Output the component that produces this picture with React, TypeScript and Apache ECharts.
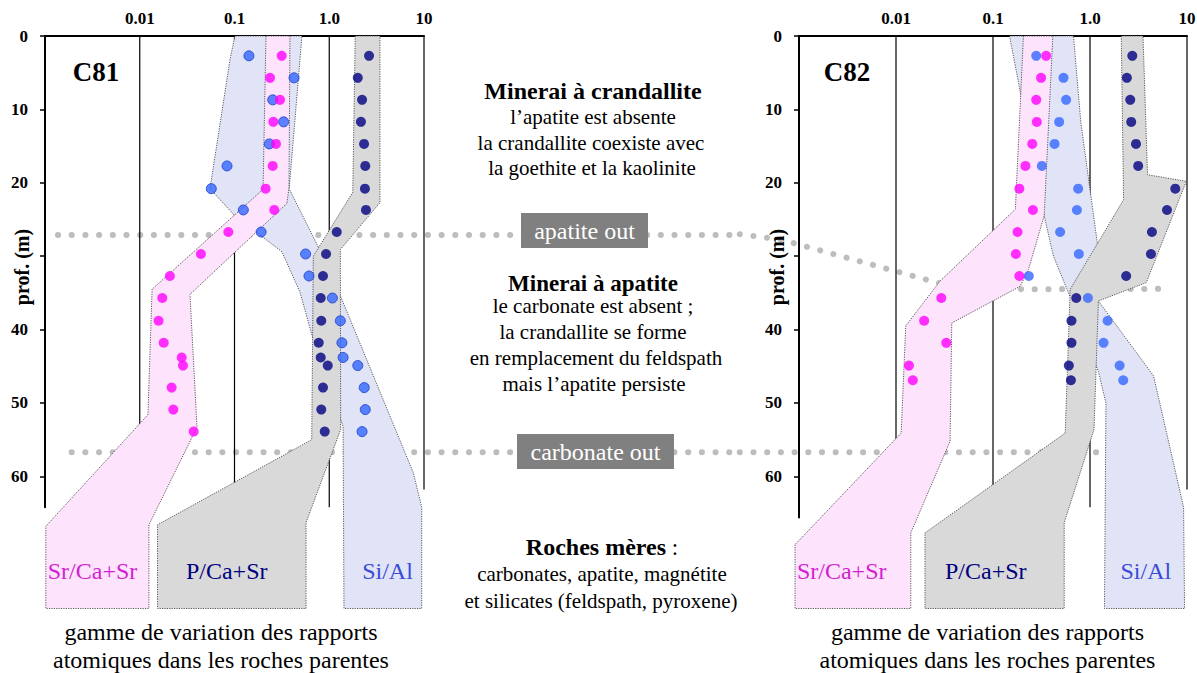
import React, { useEffect, useRef } from 'react';
import * as echarts from 'echarts';

const SERIF = "'Liberation Serif', 'Times New Roman', Times, serif";

// ---------- axes ----------
const depthTicks = [0, 10, 20, 30, 40, 50, 60];
const depthLabels = [0, 10, 20, 40, 50, 60];
const decadeValues = [0.01, 0.1, 1, 10];
const decadeLabels = ['0.01', '0.1', '1.0', '10'];
const gridLineEnds = [64.2, 64.2, 64.2, 61.8];

// ---------- C81 samples (depth m, atomic ratios) ----------
const c81Depths = [2.7, 5.7, 8.7, 11.7, 14.7, 17.7, 20.8, 23.7, 26.7, 29.7, 32.7, 35.7, 38.8, 41.8, 43.8, 44.9, 47.9, 50.9, 53.9];
const c81Sr = [0.315, 0.237, 0.302, 0.257, 0.274, 0.253, 0.213, 0.263, 0.0861, 0.0442, 0.0208, 0.0173, 0.0158, 0.0179, 0.0277, 0.0286, 0.0217, 0.0226, 0.0371];
const c81Si = [0.142, 0.425, 0.253, 0.33, 0.233, 0.0834, 0.0569, 0.124, 0.191, 0.563, 0.611, 1.08, 1.31, 1.36, 1.4, 2.0, 2.34, 2.4, 2.22];
const c81P = [2.63, 2.0, 2.22, 2.16, 2.33, 2.4, 2.38, 2.44, 1.2, 0.925, 0.859, 0.813, 0.824, 0.774, 0.813, 0.964, 0.859, 0.824, 0.896];

// ---------- C82 samples ----------
const c82Depths = [2.7, 5.7, 8.7, 11.7, 14.7, 17.7, 20.8, 23.7, 26.7, 29.7, 32.7, 35.7, 38.8, 41.8, 44.9, 46.9];
const c82Sr = [0.353, 0.313, 0.279, 0.283, 0.254, 0.216, 0.187, 0.258, 0.179, 0.172, 0.187, 0.0293, 0.0195, 0.033, 0.0136, 0.0149];
const c82Si = [0.279, 0.533, 0.567, 0.481, 0.431, 0.319, 0.755, 0.733, 0.492, 0.767, 0.234, 0.951, 1.52, 1.38, 2.02, 2.2];
const c82P = [2.73, 2.4, 2.6, 2.66, 2.98, 3.14, 7.57, 6.22, 4.35, 4.25, 2.36, 0.722, 0.644, 0.644, 0.605, 0.636];

// ---------- envelopes [ratio, depth]: left edge (top→bottom), right edge (top→bottom) ----------
const c81SiLeft = [[0.101, 0], [0.0897, 3.2], [0.0551, 20.8], [0.101, 24.5], [0.317, 29.4], [0.491, 34.9], [0.675, 41.3], [1.4, 53.2], [1.43, 78]];
const c81SiRight = [[0.515, 0], [0.378, 20.8], [0.743, 28.4], [1.33, 35.6], [7.71, 59.5], [9.46, 64.2], [9.46, 78]];
const c81PLeft = [[1.88, 0], [1.77, 21.3], [0.679, 30.0], [0.653, 55.0], [0.0154, 66.6], [0.0154, 78]];
const c81PRight = [[3.43, 0], [3.43, 22.7], [1.31, 29.1], [1.32, 53.6], [0.569, 66.3], [0.569, 78]];
const c81SrLeft = [[0.215, 0], [0.2, 20.9], [0.0135, 34.5], [0.0122, 51.6], [0.00102, 66.8], [0.00102, 78]];
const c81SrRight = [[0.385, 0], [0.376, 20.6], [0.358, 22.8], [0.0339, 35.2], [0.0402, 53.3], [0.0125, 66.6], [0.0125, 78]];

const c82SiLeft = [[0.148, 0], [0.195, 8.2], [0.337, 24.5], [0.42, 30.0], [0.6, 35.0], [1.22, 45.7], [1.46, 50.0], [1.41, 78]];
const c82SiRight = [[0.676, 0], [0.805, 11.8], [1.19, 28.2], [1.22, 36.1], [4.52, 46.3], [9.22, 64.2], [9.44, 78]];
const c82PLeft = [[2.1, 0], [2.22, 22.3], [0.625, 34.5], [0.555, 54.1], [0.0199, 67.7], [0.0199, 78]];
const c82PRight = [[3.52, 0], [3.92, 18.9], [9.84, 19.8], [3.8, 33.6], [1.22, 36.1], [1.1, 53.6], [0.542, 66.3], [0.542, 78]];
const c82SrLeft = [[0.206, 0], [0.17, 23.6], [0.0284, 33.4], [0.0126, 39.5], [0.0113, 54.1], [0.00091, 69.3], [0.00091, 78]];
const c82SrRight = [[0.414, 0], [0.337, 24.5], [0.232, 31.8], [0.191, 34.1], [0.0376, 39.1], [0.0361, 55.2], [0.0142, 67.7], [0.0142, 78]];

// ---------- horizon traces (dotted) ----------
const apatiteOutC81 = [[0.00137, 27.1], [21600, 27.1]];
const apatiteOutC82 = [[0.000245, 27.0], [0.000635, 27.7], [0.0284, 33.7], [0.1995, 34.5], [5.43, 34.45]];
const carbonateOutC81 = [[0.00191, 56.7], [21600, 56.7]];
const carbonateOutC82 = [[0.000245, 56.7], [1.245, 56.7]];

const COL = {
  pinkFill: '#fde3fb',
  greyFill: '#d9d9d9',
  lavFill: '#e1e4f6',
  magenta: '#ff00ff',
  blue: '#3366ff',
  navy: '#000080',
  dots: '#bdbdbd',
};

function poly(left: number[][], right: number[][]) {
  return [...left, ...right.slice().reverse()];
}

function xAxisDef(gridIndex: number) {
  return {
    type: 'log', logBase: 10, gridIndex, min: 0.001, max: 10, position: 'top',
    axisLine: { show: true, onZero: false, lineStyle: { color: '#000', width: 2 } },
    axisTick: { show: false },
    minorTick: { show: false },
    splitLine: { show: false },
    minorSplitLine: { show: false },
    axisLabel: {
      margin: 9, color: '#000', fontFamily: SERIF, fontWeight: 'bold', fontSize: 17,
      formatter: (v: number) => {
        const k = Math.round(Math.log10(v));
        const i = decadeValues.findIndex((d) => Math.round(Math.log10(d)) === k);
        return i >= 0 ? decadeLabels[i] : '';
      },
    },
  };
}

function yAxisDef(gridIndex: number, max: number) {
  return {
    type: 'value', gridIndex, inverse: true, min: 0, max, interval: 10,
    axisLine: { show: true, onZero: false, lineStyle: { color: '#000', width: 2 } },
    axisTick: { show: true, length: 5, customValues: depthTicks, lineStyle: { color: '#000', width: 1.5 } },
    splitLine: { show: false },
    axisLabel: {
      customValues: depthLabels, margin: 17, color: '#000', fontFamily: SERIF, fontWeight: 'bold', fontSize: 17,
      formatter: (v: number) => (depthLabels.includes(v) ? String(v) : ''),
    },
  };
}

function panelSeries(g: number, depths: number[], sr: number[], si: number[], p: number[], bands: { pts: number[][]; fill: string }[], siBorder: boolean, horizons: number[][][]) {
  const s: any[] = [];
  decadeValues.forEach((v, i) => {
    s.push({
      type: 'line', xAxisIndex: g, yAxisIndex: g, silent: true, symbol: 'none', z: 1,
      data: [[v, 0], [v, gridLineEnds[i]]],
      lineStyle: { color: '#000', width: 1.2 },
    });
  });
  s.push({
    type: 'custom', xAxisIndex: g, yAxisIndex: g, silent: true, z: 1, clip: false,
    data: horizons.map((h) => h[h.length - 1]),
    renderItem: (params: any, api: any) => {
      const h = horizons[params.dataIndex];
      return {
        type: 'polyline',
        shape: { points: h.map((pt) => api.coord(pt)) },
        style: { stroke: COL.dots, fill: 'none', lineWidth: 6, lineCap: 'round', lineDash: [0.1, 13.6] },
      };
    },
  });
  s.push({
    type: 'custom', xAxisIndex: g, yAxisIndex: g, silent: true, z: 2, clip: false,
    data: bands.map((b) => b.pts[0]),
    renderItem: (params: any, api: any) => {
      const b = bands[params.dataIndex];
      const pts = b.pts.map((pt) => api.coord(pt));
      return {
        type: 'polygon',
        shape: { points: pts },
        style: { fill: b.fill, stroke: '#333', lineWidth: 0.8, lineDash: [1.2, 1.2] },
      };
    },
  });
  s.push({
    type: 'scatter', xAxisIndex: g, yAxisIndex: g, z: 4, symbolSize: 10,
    data: depths.map((d, i) => [si[i], d]),
    itemStyle: { color: COL.blue, borderColor: siBorder ? '#1d3cc4' : COL.blue, borderWidth: siBorder ? 1 : 0 },
  });
  s.push({
    type: 'scatter', xAxisIndex: g, yAxisIndex: g, z: 4, symbolSize: 10,
    data: depths.map((d, i) => [sr[i], d]),
    itemStyle: { color: COL.magenta },
  });
  s.push({
    type: 'scatter', xAxisIndex: g, yAxisIndex: g, z: 4, symbolSize: 10,
    data: depths.map((d, i) => [p[i], d]),
    itemStyle: { color: COL.navy },
  });
  return s;
}

function txt(text: string, x: number, y: number, size: number, opts: any = {}) {
  return {
    type: 'text', x, y, z: 50, rotation: opts.rotation || 0,
    style: {
      text, fill: opts.color || '#000', fontFamily: SERIF, fontSize: size,
      fontWeight: opts.bold ? 'bold' : 'normal',
      textAlign: 'center', textVerticalAlign: 'middle', align: 'center', verticalAlign: 'middle',
      rich: opts.rich,
    },
  };
}

function buildOption() {
  const bands81 = [
    { pts: poly(c81SiLeft, c81SiRight), fill: COL.lavFill },
    { pts: poly(c81PLeft, c81PRight), fill: COL.greyFill },
    { pts: poly(c81SrLeft, c81SrRight), fill: COL.pinkFill },
  ];
  const bands82 = [
    { pts: poly(c82SiLeft, c82SiRight), fill: COL.lavFill },
    { pts: poly(c82PLeft, c82PRight), fill: COL.greyFill },
    { pts: poly(c82SrLeft, c82SrRight), fill: COL.pinkFill },
  ];

  const graphic: any[] = [
    txt('C81', 96, 72, 27, { bold: true }),
    txt('C82', 847, 72, 27, { bold: true }),
    txt('prof. (m)', 22, 267, 20, { bold: true, rotation: Math.PI / 2 }),
    txt('prof. (m)', 777, 267, 20, { bold: true, rotation: Math.PI / 2 }),

    txt('Minerai à crandallite', 593, 91, 24, { bold: true }),
    txt('l’apatite est absente', 593, 117, 21),
    txt('la crandallite coexiste avec', 591, 143, 21),
    txt('la goethite et la kaolinite', 592, 168, 21),

    { type: 'rect', z: 40, shape: { x: 521, y: 213, width: 127, height: 35 }, style: { fill: '#808080' } },
    txt('apatite out', 584.5, 230.5, 24, { color: '#ffffff' }),

    txt('Minerai à apatite', 593, 283, 23, { bold: true }),
    txt('le carbonate est absent ;', 593, 306, 21),
    txt('la crandallite se forme', 593, 332, 21),
    txt('en remplacement du feldspath', 596, 358, 21),
    txt('mais l’apatite persiste', 594, 384, 21),

    { type: 'rect', z: 40, shape: { x: 517, y: 434, width: 157, height: 35 }, style: { fill: '#808080' } },
    txt('carbonate out', 595.5, 451.5, 24, { color: '#ffffff' }),

    txt('{b|Roches mères} :', 602, 547, 23, { rich: { b: { fontWeight: 'bold', fontSize: 24, fontFamily: SERIF, fill: '#000' } } }),
    txt('carbonates, apatite, magnétite', 602, 574, 21),
    txt('et silicates (feldspath, pyroxene)', 601, 601, 21),

    txt('Sr/Ca+Sr', 92.5, 571, 24, { color: '#d21fd2' }),
    txt('P/Ca+Sr', 226.7, 571, 24, { color: '#000080' }),
    txt('Si/Al', 387.5, 571, 24, { color: '#3a4bd6' }),
    txt('Sr/Ca+Sr', 841.7, 571, 24, { color: '#d21fd2' }),
    txt('P/Ca+Sr', 985.8, 571, 24, { color: '#000080' }),
    txt('Si/Al', 1145.8, 571, 24, { color: '#3a4bd6' }),

    txt('gamme de variation des rapports', 221, 632, 24),
    txt('atomiques dans les roches parentes', 221, 660, 24),
    txt('gamme de variation des rapports', 987.5, 632, 24),
    txt('atomiques dans les roches parentes', 987.5, 660, 24),
  ];

  return {
    animation: false,
    backgroundColor: '#ffffff',
    textStyle: { fontFamily: SERIF },
    grid: [
      { left: 45, top: 36, width: 379, height: 471.2, containLabel: false, outerBoundsMode: 'none' },
      { left: 799, top: 36, width: 388, height: 481.5, containLabel: false, outerBoundsMode: 'none' },
    ],
    xAxis: [xAxisDef(0), xAxisDef(1)],
    yAxis: [yAxisDef(0, 64.2), yAxisDef(1, 65.6)],
    series: [
      ...panelSeries(0, c81Depths, c81Sr, c81Si, c81P, bands81, true, [apatiteOutC81, carbonateOutC81]),
      ...panelSeries(1, c82Depths, c82Sr, c82Si, c82P, bands82, false, [apatiteOutC82, carbonateOutC82]),
    ],
    graphic,
  };
}

export default function App() {
  const ref = useRef<HTMLDivElement>(null);
  useEffect(() => {
    const chart = echarts.init(ref.current!, null, { renderer: 'svg' });
    chart.setOption(buildOption() as any);
    return () => chart.dispose();
  }, []);
  return (
    <div
      ref={ref}
      style={{ position: 'fixed', left: 0, top: 0, width: 1197, height: 673, background: '#fff' }}
    />
  );
}
